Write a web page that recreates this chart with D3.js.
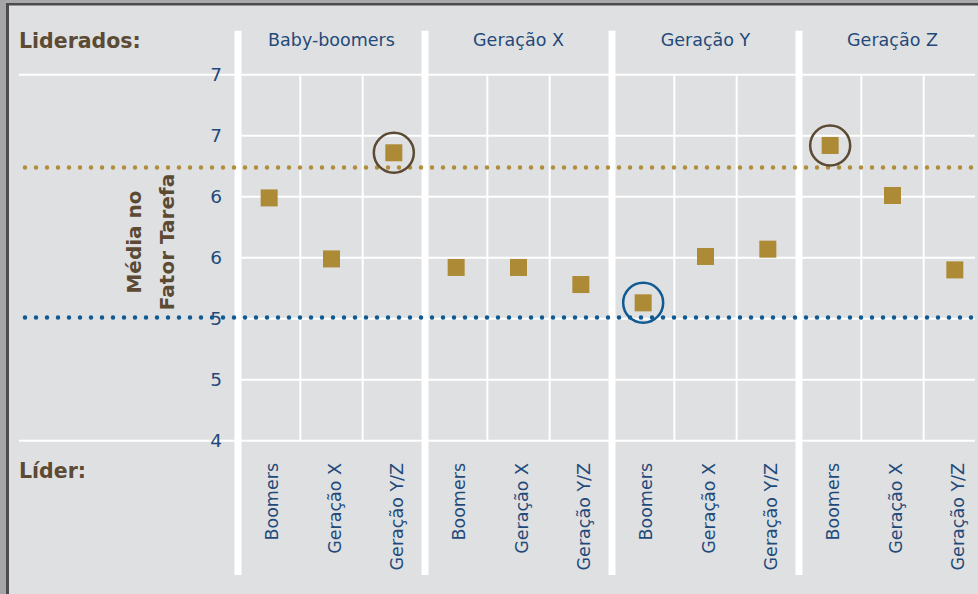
<!DOCTYPE html>
<html>
<head>
<meta charset="utf-8">
<script src="https://cdn.jsdelivr.net/npm/d3@7"></script>
<style>
  body { margin: 0; background: #dfe0e2; }
  svg { display: block; font-family: "DejaVu Sans", sans-serif; }
  .blue { fill: #1f4a7a; }
  .brown { fill: #5c4a33; font-weight: bold; }
</style>
</head>
<body>
<svg width="978" height="594"></svg>
<script>
// data
var groups = ["Baby-boomers", "Geração X", "Geração Y", "Geração Z"];
var leaders = ["Boomers", "Geração X", "Geração Y/Z"];
var babyBoomers = [5.99, 5.49, 6.36];
var geracaoX = [5.42, 5.42, 5.28];
var geracaoY = [5.13, 5.51, 5.57];
var geracaoZ = [6.42, 6.01, 5.40];
var yTicks = [4, 4.5, 5, 5.5, 6, 6.5, 7];
var yTickLabels = ["4", "5", "5", "6", "6", "7", "7"];
var refHigh = 6.24;
var refLow = 5.01;
// circled points: [group, leader, colour]
var circled = [
  ["Baby-boomers", "Geração Y/Z", "#5c4a33"],
  ["Geração Y", "Boomers", "#0f5a92"],
  ["Geração Z", "Boomers", "#5c4a33"]
];

var series = [babyBoomers, geracaoX, geracaoY, geracaoZ];
var points = [];
groups.forEach(function(g, i) {
  leaders.forEach(function(l, j) {
    points.push({group: g, leader: l, value: series[i][j]});
  });
});

var svg = d3.select("svg");

// frame
svg.append("rect").attr("width", 978).attr("height", 594).attr("fill", "#dfe0e2");
svg.append("rect").attr("x", 0).attr("y", 0).attr("width", 978).attr("height", 3).attr("fill", "#a9a9ad");
svg.append("rect").attr("x", 0).attr("y", 0).attr("width", 6).attr("height", 594).attr("fill", "#a5a5a9");
svg.append("rect").attr("x", 6).attr("y", 3).attr("width", 972).attr("height", 2.5).attr("fill", "#4b4b4b");
svg.append("rect").attr("x", 6).attr("y", 3).attr("width", 3).attr("height", 591).attr("fill", "#4b4b4b");

var xGroup = d3.scaleBand().domain(groups).range([238, 986]);
var xInner = d3.scaleBand().domain(leaders).range([0, xGroup.bandwidth()]);
var y = d3.scaleLinear().domain([4, 7]).range([440.7, 74.7]);

function px(d) { return xGroup(d.group) + xInner(d.leader) + xInner.bandwidth() / 2; }

// horizontal grid
svg.append("g").selectAll("line")
  .data(yTicks)
  .enter().append("line")
  .attr("x1", function(d) { return (d === 4 || d === 7) ? 19 : 238; })
  .attr("x2", 975)
  .attr("y1", function(d) { return y(d); })
  .attr("y2", function(d) { return y(d); })
  .attr("stroke", "#fff").attr("stroke-width", 2);

// thin verticals inside each group
var inner = [];
groups.forEach(function(g) {
  leaders.slice(1).forEach(function(l) { inner.push(xGroup(g) + xInner(l)); });
});
svg.append("g").selectAll("line")
  .data(inner)
  .enter().append("line")
  .attr("x1", function(d) { return d; }).attr("x2", function(d) { return d; })
  .attr("y1", y(7)).attr("y2", y(4))
  .attr("stroke", "#fff").attr("stroke-width", 2);

// thick group separators
svg.append("g").selectAll("line")
  .data(groups)
  .enter().append("line")
  .attr("x1", function(d) { return xGroup(d); }).attr("x2", function(d) { return xGroup(d); })
  .attr("y1", 30.7).attr("y2", 575)
  .attr("stroke", "#fff").attr("stroke-width", 7);

// y axis labels
var yAxis = d3.axisLeft(y)
  .tickValues(yTicks)
  .tickFormat(function(d, i) { return yTickLabels[i]; })
  .tickSize(0).tickPadding(16);
var ax = svg.append("g").attr("transform", "translate(238,0)").call(yAxis);
ax.select(".domain").remove();
ax.selectAll("text").attr("class", "blue").attr("fill", null)
  .style("font-size", "18.5px").style("font-family", "DejaVu Sans");

// group headers
svg.append("g").selectAll("text")
  .data(groups)
  .enter().append("text")
  .attr("class", "blue")
  .attr("x", function(d) { return xGroup(d) + xGroup.bandwidth() / 2; })
  .attr("y", 46)
  .attr("text-anchor", "middle")
  .style("font-size", "17.5px")
  .text(function(d) { return d; });

// leader labels (rotated)
svg.append("g").selectAll("text")
  .data(points)
  .enter().append("text")
  .attr("class", "blue")
  .attr("transform", function(d) { return "translate(" + (px(d) + 9) + ",463) rotate(-90)"; })
  .attr("text-anchor", "end")
  .style("font-size", "17.5px")
  .text(function(d) { return d.leader; });

// reference lines
svg.append("line")
  .attr("x1", 25).attr("x2", 978).attr("y1", y(refHigh)).attr("y2", y(refHigh))
  .attr("stroke", "#b08d3a").attr("stroke-width", 4.5)
  .attr("stroke-linecap", "round").attr("stroke-dasharray", "0 11");
svg.append("line")
  .attr("x1", 25).attr("x2", 978).attr("y1", y(refLow)).attr("y2", y(refLow))
  .attr("stroke", "#0f5a92").attr("stroke-width", 4.5)
  .attr("stroke-linecap", "round").attr("stroke-dasharray", "0 11");

// y title and side labels
var yt = svg.append("text").attr("class", "brown")
  .attr("transform", "translate(0,242) rotate(-90)")
  .attr("text-anchor", "middle")
  .style("font-size", "20px");
yt.append("tspan").attr("x", 0).attr("y", 141).text("Média no");
yt.append("tspan").attr("x", 0).attr("y", 174).text("Fator Tarefa");

svg.append("text").attr("class", "brown").attr("x", 19).attr("y", 47.7)
  .style("font-size", "20.5px").text("Liderados:");
svg.append("text").attr("class", "brown").attr("x", 19).attr("y", 478)
  .style("font-size", "20.5px").text("Líder:");

// points
svg.append("g").selectAll("rect")
  .data(points)
  .enter().append("rect")
  .attr("x", function(d) { return px(d) - 8.5; })
  .attr("y", function(d) { return y(d.value) - 8.5; })
  .attr("width", 17).attr("height", 17)
  .attr("fill", "#ad8a35");

// highlight circles
svg.append("g").selectAll("circle")
  .data(circled)
  .enter().append("circle")
  .attr("cx", function(c) { return px({group: c[0], leader: c[1]}); })
  .attr("cy", function(c) {
    var p = points.find(function(d) { return d.group === c[0] && d.leader === c[1]; });
    return y(p.value);
  })
  .attr("r", 20)
  .attr("fill", "none")
  .attr("stroke", function(c) { return c[2]; })
  .attr("stroke-width", 2.5);
</script>
</body>
</html>
